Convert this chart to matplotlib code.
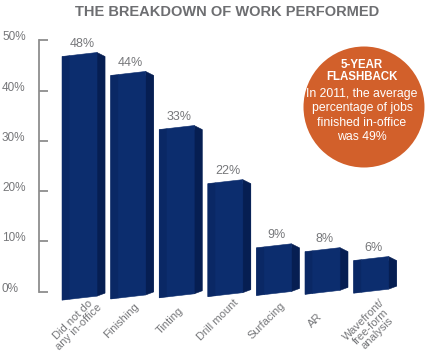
#!/usr/bin/env python3

import matplotlib
matplotlib.use('Agg')
import matplotlib.pyplot as plt
from matplotlib import transforms
from matplotlib.patches import Ellipse

# Données du graphique
categories = ['Did not do\nany in-office', 'Finishing', 'Tinting', 'Drill mount',
              'Surfacing', 'AR', 'Wavefront/\nfree-form\nanalysis']
values = [48, 44, 33, 22, 9, 8, 6]
yticks = [0, 10, 20, 30, 40, 50]

title = 'THE BREAKDOWN OF WORK PERFORMED'
flash_head = '5-YEAR\nFLASHBACK'
flash_body = 'In 2011, the average\npercentage of jobs\nfinished in-office\nwas 49%'

W, H = 429, 359
NAVY = '#0c2d6e'
NAVY_LEFT = '#0a2865'
NAVY_SIDE = '#061e52'
GREY = '#76777a'
ORANGE = '#d2602b'
FONT = ['Liberation Sans', 'DejaVu Sans']


def px_rect(left, top, right, bottom):
    return [left / W, 1 - bottom / H, (right - left) / W, (bottom - top) / H]


def main():
    fig = plt.figure(figsize=(W / 100, H / 100), dpi=100)
    ax = fig.add_axes(px_rect(39, 30.4, 429, 311.7))
    ax.set_xlim(-0.916, 7.11)
    ax.set_ylim(-4, 52)

    # Barres en pseudo 3D : fond, face latérale, bande gauche, face avant
    for i, v in enumerate(values):
        x0 = i - 0.442
        xl = x0 + 0.16
        xf = x0 + 0.72
        xs = x0 + 0.885
        base = -1.7 + 0.23 * i
        top = base + v + 0.5
        ax.fill([x0, xs, xs, x0], [base, base + 1.4, top, top],
                color=NAVY, lw=0)
        ax.fill([xf, xs, xs, xf], [base + 0.8, base + 1.4, top, top + 0.8],
                color=NAVY_SIDE, lw=0.4, ec=NAVY_SIDE)
        ax.fill([x0, xl, xl, x0], [base, base + 0.18, top + 0.18, top],
                color=NAVY_LEFT, lw=0.4, ec=NAVY_LEFT)
        ax.fill([xl, xf, xf, xl], [base + 0.18, base + 0.8, top + 0.8, top + 0.18],
                color=NAVY, lw=0.4, ec=NAVY)
        ax.text(i - 0.03, top + 1.3, f'{v}%', ha='center', va='bottom',
                fontsize=9, color=GREY, family=FONT)
        ax.text(i - 0.3, -5.0, categories[i], rotation=45, rotation_mode='anchor',
                ha='center', va='top', multialignment='center',
                fontsize=8, color=GREY, family=FONT, linespacing=0.9)

    # Axe vertical
    for s in ['top', 'right', 'bottom']:
        ax.spines[s].set_visible(False)
    ax.spines['left'].set_bounds(0, 50)
    ax.spines['left'].set_color('#8d8d8d')
    ax.spines['left'].set_linewidth(1.3)
    ax.set_xticks([])
    ax.set_yticks(yticks)
    ax.tick_params(axis='y', direction='in', length=6.5, width=1.3,
                   color='#8d8d8d', labelleft=False)
    trans = transforms.blended_transform_factory(fig.transFigure, ax.transData)
    trans = trans + transforms.ScaledTranslation(0, 3 / 100, fig.dpi_scale_trans)
    for t in yticks:
        ax.text(2 / W, t, f'{t}%', transform=trans, ha='left', va='center',
                fontsize=8.5, color=GREY, family=FONT)

    fig.text(227 / W, 1 - 12 / H, title, ha='center', va='center',
             fontsize=10.5, fontweight='bold', color='#6d6e71', family=FONT)

    # Encadré rond
    fig.patches.append(Ellipse((364 / W, 1 - 107 / H), 121 / W, 121 / H,
                               transform=fig.transFigure, color=ORANGE, lw=0))
    fig.text(362 / W, 1 - 71 / H, flash_head, ha='center', va='center',
             fontsize=8.3, fontweight='bold', color='white', family=FONT,
             linespacing=1.1)
    fig.text(362 / W, 1 - 115.5 / H, flash_body, ha='center', va='center',
             fontsize=8.8, color='white', family=FONT, linespacing=1.28)

    fig.savefig('out.png', dpi=100)


if __name__ == '__main__':
    main()
